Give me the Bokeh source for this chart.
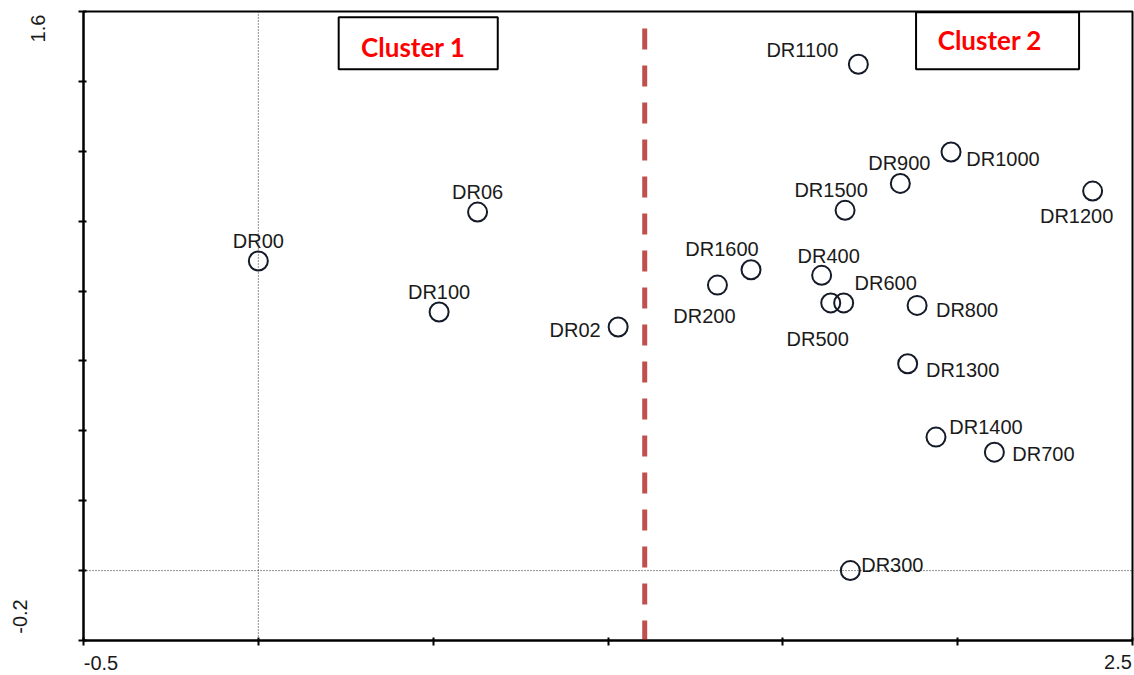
import math
from bokeh.plotting import figure
from bokeh.models import (ColumnDataSource, Range1d, FixedTicker, Span, Label,
                          BoxAnnotation)
from bokeh.core.properties import value
from bokeh.embed import file_html
from bokeh.resources import INLINE

# ---- data ----
names = ["DR00", "DR06", "DR100", "DR02", "DR1600", "DR200", "DR400", "DR500",
         "DR600", "DR1500", "DR1100", "DR900", "DR1000", "DR1200", "DR800",
         "DR1300", "DR1400", "DR700", "DR300"]
dim1 = [0.000, 0.627, 0.517, 1.029, 1.409, 1.313, 1.611, 1.637,
        1.674, 1.678, 1.716, 1.836, 1.981, 2.386, 1.884,
        1.857, 1.938, 2.105, 1.693]
dim2 = [0.886, 1.026, 0.740, 0.697, 0.861, 0.817, 0.845, 0.766,
        0.766, 1.031, 1.449, 1.108, 1.198, 1.086, 0.759,
        0.592, 0.382, 0.339, 0.000]
cluster_names = ["Cluster 1", "Cluster 2"]
cluster_split = 1.105
x_ticks = [-0.5, 0.0, 0.5, 1.0, 1.5, 2.0, 2.5]
y_ticks = [-0.2, 0.0, 0.2, 0.4, 0.6, 0.8, 1.0, 1.2, 1.4, 1.6]

# label placement (screen px, text centre relative to marker)
label_dx = [0, 0, 0, -43, -29, -13, 7, -13, 42, -14, -56, -1, 52, -16, 50, 55, 50, 49, 42]
label_dy = [-20, -20, -20, 3, -21, 31, -19, 36, -20, -20, -14, -20, 7, 25, 5, 6, -10, 2, -6]

src = ColumnDataSource(dict(x=dim1, y=dim2, name=names, dx=label_dx, dy=label_dy))

p = figure(width=1134, height=675, output_backend="svg", toolbar_location=None,
           x_range=Range1d(-0.5, 2.5), y_range=Range1d(-0.2, 1.6),
           min_border_left=83, min_border_right=2, min_border_top=11,
           min_border_bottom=35)
p.grid.visible = False
p.outline_line_color = "black"
p.outline_line_width = 2
p.background_fill_color = "white"
p.border_fill_color = "white"

for ax, ticks in ((p.xaxis[0], x_ticks), (p.yaxis[0], y_ticks)):
    ax.ticker = FixedTicker(ticks=ticks)
    ax.minor_tick_line_color = None
    ax.axis_line_width = 2
    ax.axis_line_color = "black"
    ax.major_tick_line_width = 2
    ax.major_tick_line_color = "black"
    ax.major_tick_in = 3
    ax.major_tick_out = 5
    ax.major_label_overrides = {t: "" for t in ticks}
    ax.major_label_text_font_size = "1px"

# reference lines
p.add_layout(Span(location=0, dimension="height", line_color="#222222",
                  line_width=1, line_dash="1 2"))
p.add_layout(Span(location=0, dimension="width", line_color="#222222",
                  line_width=1, line_dash="1 2"))

# cluster separator
p.segment(x0=[cluster_split], y0=[1.551], x1=[cluster_split], y1=[-0.2],
          line_color="#C0504D", line_width=5, line_dash="21 16")

# points
p.scatter("x", "y", source=src, marker="circle", size=19, fill_color=None,
          line_color="#141a28", line_width=2)
p.text("x", "y", text="name", source=src, x_offset="dx", y_offset="dy",
       text_align="center", text_baseline="middle",
       text_font=value("Liberation Sans"), text_font_size="20px",
       text_color="#1a1a1a")

# cluster boxes
p.add_layout(BoxAnnotation(left=0.2298, right=0.6847, bottom=1.4348, top=1.5836,
                           fill_color="white", fill_alpha=1, line_color="black",
                           line_width=2, line_alpha=1))
p.add_layout(BoxAnnotation(left=1.8810, right=2.3472, bottom=1.4348, top=1.598,
                           fill_color="white", fill_alpha=1, line_color="black",
                           line_width=2, line_alpha=1))
for txt, cx, cy in ((cluster_names[0], 0.443, 1.498), (cluster_names[1], 2.092, 1.518)):
    p.add_layout(Label(x=cx, y=cy, text=txt, text_align="center",
                       text_baseline="middle", text_font="Lato",
                       text_font_style="bold", text_font_size="26px",
                       text_color="#FF0000"))

# tick labels (only extremes shown, as in the reference), placed in side panels
tick_font = dict(text_font="Liberation Sans", text_font_size="20px",
                 text_color="#1a1a1a", text_align="center", text_baseline="middle")
p.add_layout(Label(x=x_ticks[0], y=y_ticks[0], text="-0.5", x_offset=17.5, y_offset=-22, **tick_font), "below")
p.add_layout(Label(x=x_ticks[-1], y=y_ticks[0], text="2.5", x_offset=-14.5, y_offset=-21, **tick_font), "below")
p.add_layout(Label(x=x_ticks[0], y=y_ticks[-1], text="1.6", x_offset=-46, y_offset=-17,
                   angle=math.pi / 2, **tick_font), "left")
p.add_layout(Label(x=x_ticks[0], y=y_ticks[0], text="-0.2", x_offset=-64, y_offset=24,
                   angle=math.pi / 2, **tick_font), "left")

open("out.html", "w").write(file_html(p, INLINE))
